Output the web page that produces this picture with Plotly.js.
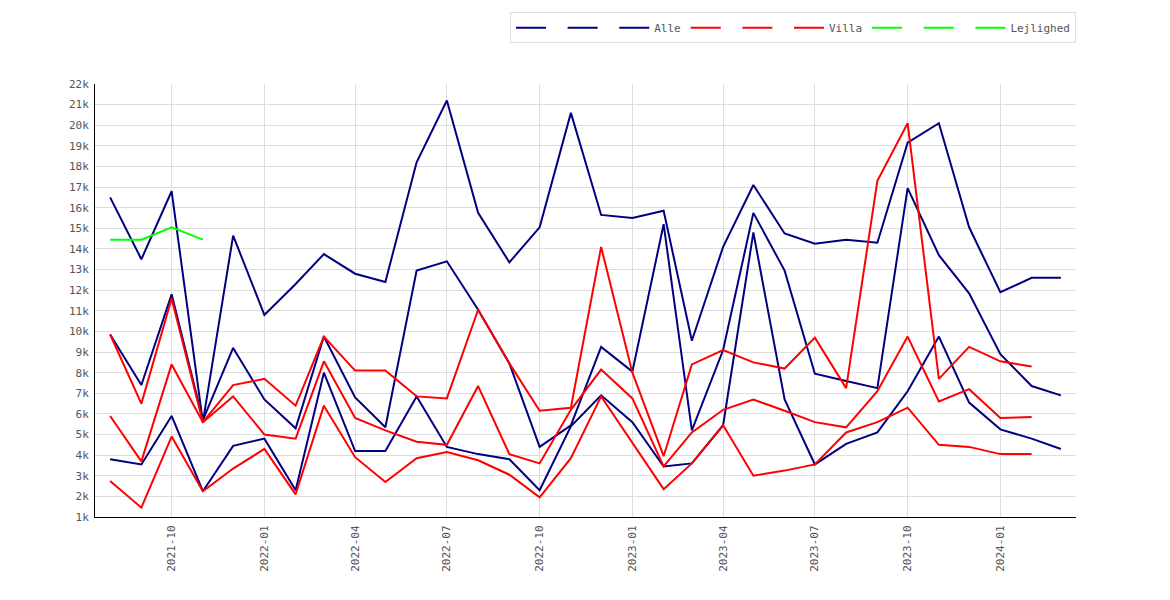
<!DOCTYPE html>
<html>
<head>
<meta charset="utf-8">
<script src="https://cdn.plot.ly/plotly-3.0.1.min.js"></script>
<style>body{margin:0;background:#fff}</style>
</head>
<body>
<div id="chart" style="width:1170px;height:600px"></div>
<script>
// monthly, 2021-08 .. 2024-03
var months = [];
for (var i = 0; i < 32; i++) {
    var y = 2021 + Math.floor((7 + i) / 12), m = (7 + i) % 12 + 1;
    months.push(y + "-" + (m < 10 ? "0" + m : m) + "-01");
}

var alleHigh = [16500,13500,16800,5600,14650,10800,12300,13750,12800,12400,18200,21200,15750,13350,15050,20600,15650,15500,15850,9550,14100,17100,14750,14250,14450,14300,19150,20100,15050,11900,12600,12600];
var alleMid  = [9850,7400,11800,5700,9200,6700,5300,9750,6800,5350,12950,13400,11050,8450,4400,5450,9250,8050,15200,5200,9100,15750,12950,7950,7600,7250,16950,13700,11850,8900,7350,6900];
var alleLow  = [3800,3550,5900,2250,4450,4800,2300,8000,4200,4200,6850,4400,4050,3800,2300,5400,6900,5600,3450,3600,5450,14800,6700,3550,4550,5100,7100,9750,6550,5250,4800,4300];

var villaHigh = [9850,6500,11600,5600,7400,7700,6400,9750,8100,8100,6850,6750,11050,8450,6150,6300,14100,8000,3950,8400,9100,8500,8200,9700,7250,17300,20100,7700,9250,8550,8300,null];
var villaMid  = [5900,3700,8400,5600,6850,5000,4800,8550,5800,5200,4650,4500,7350,4050,3600,6200,8150,6750,3450,5100,6200,6700,6150,5600,5350,7100,9750,6600,7200,5800,5850,null];
var villaLow  = [2750,1450,4900,2250,3350,4300,2100,6400,3900,2700,3850,4150,3750,3050,1950,3850,6850,4600,2350,3600,5450,3000,3250,3550,5100,5600,6300,4500,4400,4050,4050,null];

var lejlHigh = [null,null,null,null];
var lejlMid  = [14450,14450,15050,14450];
var lejlLow  = [null,null,null,null];

var blue = "#000080", red = "#ff0000", green = "#00ff00";

function series(vals, name, color, show) {
    return {
        x: months.slice(0, vals.length), y: vals, name: name,
        type: "scatter", mode: "lines",
        line: { color: color, width: 2 },
        showlegend: true, hoverinfo: "x+y"
    };
}

var data = [
    series(alleHigh, " ", blue), series(alleLow, " ", blue), series(alleMid, "Alle", blue),
    series(villaHigh, " ", red), series(villaLow, " ", red), series(villaMid, "Villa", red),
    series(lejlHigh, " ", green), series(lejlLow, " ", green), series(lejlMid, "Lejlighed", green)
];

var font = { family: "DejaVu Sans Mono, monospace", size: 11, color: "#555" };

var layout = {
    width: 1170, height: 600,
    margin: { l: 95, r: 94, t: 73, b: 83 },
    paper_bgcolor: "#fff", plot_bgcolor: "#fff",
    font: font,
    showlegend: true,
    legend: {
        orientation: "h", x: 1, xanchor: "right", y: 1.13, yanchor: "middle",
        bordercolor: "#ddd", borderwidth: 1, font: font,
        itemwidth: 30, tracegroupgap: 0
    },
    xaxis: {
        type: "date", range: ["2021-07-17", "2024-03-16"],
        tickvals: ["2021-10-01","2022-01-01","2022-04-01","2022-07-01","2022-10-01","2023-01-01","2023-04-01","2023-07-01","2023-10-01","2024-01-01"],
        ticktext: ["2021-10","2022-01","2022-04","2022-07","2022-10","2023-01","2023-04","2023-07","2023-10","2024-01"],
        tickangle: -90, showgrid: true, gridcolor: "#ddd",
        showline: true, linecolor: "#000", linewidth: 1, zeroline: false,
        ticks: "outside", ticklen: 3, tickcolor: "#fff"
    },
    yaxis: {
        range: [1000, 22000], dtick: 1000, tick0: 1000,
        showgrid: true, gridcolor: "#ddd",
        showline: true, linecolor: "#000", linewidth: 1, zeroline: false,
        ticks: "outside", ticklen: 3, tickcolor: "#fff"
    }
};

Plotly.newPlot("chart", data, layout, { displayModeBar: false, staticPlot: true });
</script>
</body>
</html>
